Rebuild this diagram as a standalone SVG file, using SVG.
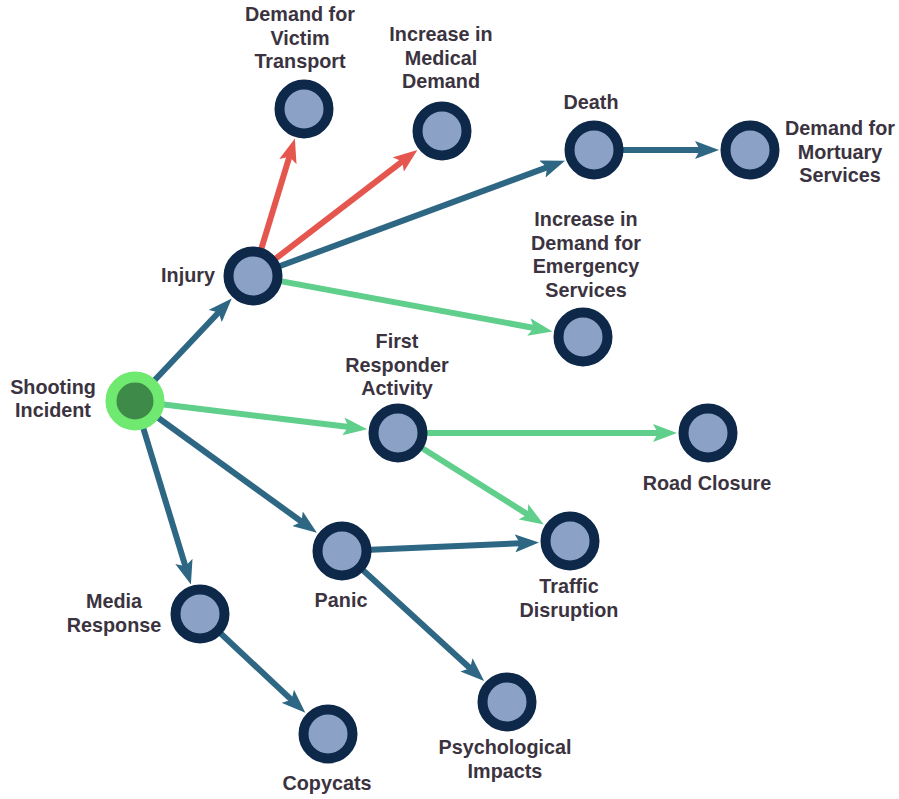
<svg xmlns="http://www.w3.org/2000/svg" width="899" height="799" viewBox="0 0 899 799">
<style>
.bg{fill:#ffffff}
.e{fill:none;stroke-width:6;stroke-linecap:butt}
.t{stroke:#2e6784;marker-end:url(#at)}
.g{stroke:#5fcf8b;marker-end:url(#ag)}
.r{stroke:#e5564e;marker-end:url(#ar)}
.n{fill:#8ba1c5;stroke:#0d2849;stroke-width:10}
.s{fill:#3e8a48;stroke:#6fe96f;stroke-width:11}
text{font-family:"Liberation Sans",Arial,Helvetica,sans-serif;font-weight:bold;font-size:19.8px;fill:#3b3340;text-anchor:middle}
</style>
<defs>
<marker id="at" markerUnits="userSpaceOnUse" markerWidth="24" markerHeight="18" viewBox="0 0 24 18" refX="12" refY="9" orient="auto"><path d="M0,0 L24,9 L0,18 L5,9 z" fill="#2e6784"/></marker>
<marker id="ag" markerUnits="userSpaceOnUse" markerWidth="24" markerHeight="18" viewBox="0 0 24 18" refX="12" refY="9" orient="auto"><path d="M0,0 L24,9 L0,18 L5,9 z" fill="#5fcf8b"/></marker>
<marker id="ar" markerUnits="userSpaceOnUse" markerWidth="24" markerHeight="18" viewBox="0 0 24 18" refX="12" refY="9" orient="auto"><path d="M0,0 L24,9 L0,18 L5,9 z" fill="#e5564e"/></marker>
</defs>
<rect class="bg" x="0" y="0" width="899" height="799"/>
<g id="connectors">
<line class="e t" x1="135" y1="401" x2="223.5" y2="307.3"/>
<line class="e g" x1="135" y1="401" x2="355.3" y2="427.8"/>
<line class="e t" x1="135" y1="401" x2="307.2" y2="525.8"/>
<line class="e t" x1="135" y1="401" x2="187.4" y2="572.9"/>
<line class="e r" x1="253" y1="276" x2="291.4" y2="150.1"/>
<line class="e r" x1="253" y1="276" x2="407.9" y2="157.2"/>
<line class="e t" x1="253" y1="276" x2="553.7" y2="164.9"/>
<line class="e g" x1="253" y1="276" x2="540.7" y2="329.2"/>
<line class="e t" x1="594" y1="150" x2="707" y2="150"/>
<line class="e g" x1="398" y1="433" x2="665" y2="433"/>
<line class="e g" x1="398" y1="433" x2="533.6" y2="518.1"/>
<line class="e t" x1="342" y1="551" x2="527" y2="542.9"/>
<line class="e t" x1="342" y1="551" x2="475.3" y2="673"/>
<line class="e t" x1="200" y1="614" x2="296.6" y2="704.6"/>
</g>
<g id="shooting-incident">
<circle class="s" cx="135" cy="401" r="24"/>
<text x="53" y="394">Shooting</text>
<text x="53" y="417">Incident</text>
</g>
<g id="injury">
<circle class="n" cx="253" cy="276" r="24.5"/>
<text x="188" y="282">Injury</text>
</g>
<g id="demand-victim-transport">
<circle class="n" cx="304" cy="109" r="24.5"/>
<text x="300" y="21">Demand for</text>
<text x="300" y="44.5">Victim</text>
<text x="300" y="68">Transport</text>
</g>
<g id="increase-medical-demand">
<circle class="n" cx="442" cy="131" r="24.5"/>
<text x="441" y="41">Increase in</text>
<text x="441" y="64.5">Medical</text>
<text x="441" y="88">Demand</text>
</g>
<g id="death">
<circle class="n" cx="594" cy="150" r="24.5"/>
<text x="591" y="109">Death</text>
</g>
<g id="demand-mortuary">
<circle class="n" cx="750" cy="150" r="24.5"/>
<text x="840" y="135">Demand for</text>
<text x="840" y="158.5">Mortuary</text>
<text x="840" y="182">Services</text>
</g>
<g id="increase-emergency-services">
<circle class="n" cx="583" cy="337" r="24.5"/>
<text x="586" y="226">Increase in</text>
<text x="586" y="249.5">Demand for</text>
<text x="586" y="273">Emergency</text>
<text x="586" y="296.5">Services</text>
</g>
<g id="first-responder-activity">
<circle class="n" cx="398" cy="433" r="24.5"/>
<text x="397" y="348">First</text>
<text x="397" y="371.5">Responder</text>
<text x="397" y="395">Activity</text>
</g>
<g id="road-closure">
<circle class="n" cx="708" cy="433" r="24.5"/>
<text x="707" y="490">Road Closure</text>
</g>
<g id="traffic-disruption">
<circle class="n" cx="570" cy="541" r="24.5"/>
<text x="569" y="593">Traffic</text>
<text x="569" y="616.5">Disruption</text>
</g>
<g id="panic">
<circle class="n" cx="342" cy="551" r="24.5"/>
<text x="341" y="607">Panic</text>
</g>
<g id="psychological-impacts">
<circle class="n" cx="507" cy="702" r="24.5"/>
<text x="505" y="754">Psychological</text>
<text x="505" y="777.5">Impacts</text>
</g>
<g id="media-response">
<circle class="n" cx="200" cy="614" r="24.5"/>
<text x="114" y="608">Media</text>
<text x="114" y="631.5">Response</text>
</g>
<g id="copycats">
<circle class="n" cx="328" cy="734" r="24.5"/>
<text x="327" y="790">Copycats</text>
</g>
</svg>
